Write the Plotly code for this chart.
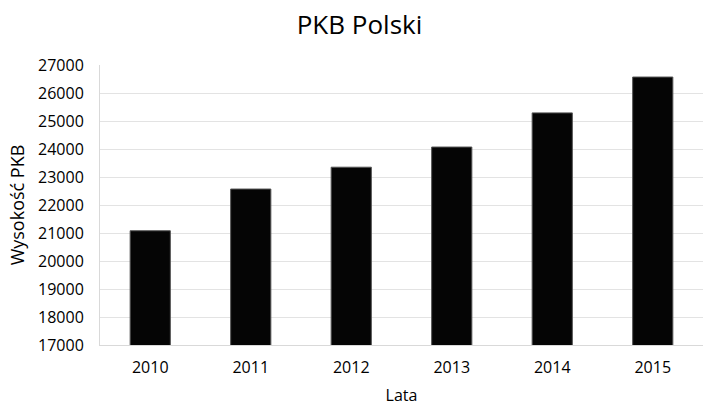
import plotly.graph_objects as go

years = ["2010", "2011", "2012", "2013", "2014", "2015"]
gdp = [21080, 22570, 23350, 24070, 25290, 26570]
y_ticks = [17000, 18000, 19000, 20000, 21000, 22000, 23000, 24000, 25000, 26000, 27000]
y_tick_labels = [str(v) for v in y_ticks]

fig = go.Figure(go.Bar(
    x=years, y=gdp,
    marker=dict(color="#050505", line=dict(color="#555555", width=1)),
))

font = "Open Sans, Noto Sans, sans-serif"
fig.update_layout(
    width=719, height=408,
    margin=dict(l=100, r=16, t=65, b=63),
    paper_bgcolor="white", plot_bgcolor="white",
    bargap=0.6,
    showlegend=False,
    title=dict(text="PKB Polski", x=0.5, xanchor="center", y=0.94, yanchor="middle",
               font=dict(family=font, size=26, color="#000")),
    font=dict(family=font, color="#000"),
)
fig.update_xaxes(
    type="category",
    showline=True, linecolor="#d9d9d9", linewidth=1,
    tickfont=dict(size=16), ticks="outside", ticklen=8, tickcolor="rgba(0,0,0,0)",
    title=dict(text="Lata", font=dict(size=16), standoff=12),
    automargin=False,
)
fig.update_yaxes(
    range=[17000, 27000], tickvals=y_ticks, ticktext=y_tick_labels,
    showgrid=True, gridcolor="#e3e3e3", gridwidth=1,
    showline=True, linecolor="#d9d9d9", linewidth=1,
    zeroline=False,
    tickfont=dict(size=16), ticks="outside", ticklen=12, tickcolor="rgba(0,0,0,0)",
    title=dict(text="Wysokość PKB", font=dict(size=18), standoff=8),
    automargin=False,
)
fig.write_html("out.html", config={"displayModeBar": False},
               post_script="document.body.style.margin='0';")
